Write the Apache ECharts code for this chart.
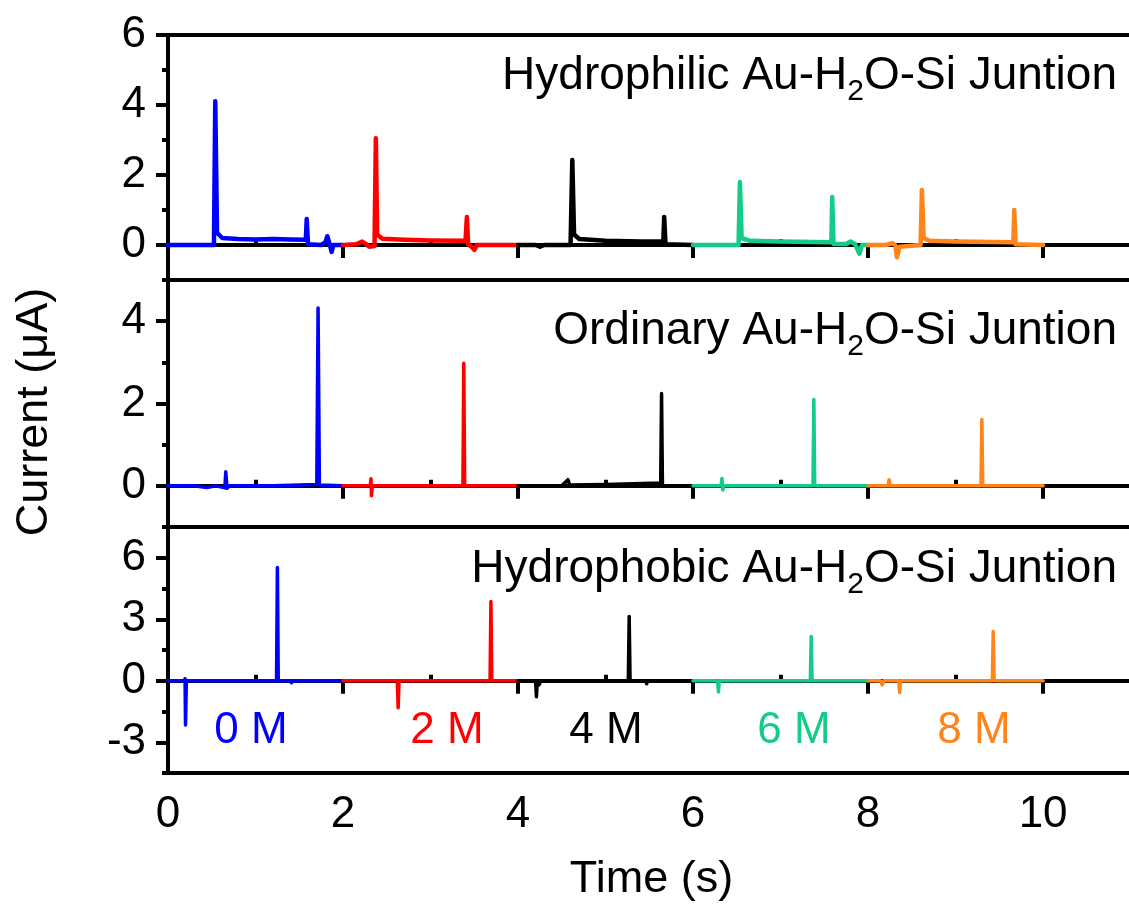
<!DOCTYPE html>
<html>
<head>
<meta charset="utf-8">
<script src="https://cdn.jsdelivr.net/npm/echarts@6/dist/echarts.min.js"></script>
<style>
  html, body { margin: 0; padding: 0; background: #fff; overflow: hidden; }
</style>
</head>
<body>
<!-- a bit wider than the window: the right frame edge lies outside the picture -->
<div id="main" style="width: 1145px; height: 909px"></div>
<script>
// time (s), current (uA) points, one array per trace
var philic0M = [[0,0],[0.525,0],[0.54,4.11],[0.56,0.35],[0.62,0.2],[0.8,0.17],[1.0,0.16],[1.2,0.17],[1.4,0.16],[1.575,0.15],[1.585,0.74],[1.6,0.02],[1.75,0],[1.8,0.08],[1.82,0.25],[1.85,0],[1.87,-0.2],[1.89,0],[2,0]];
var philic2M = [[2,0],[2.15,0.02],[2.22,0.1],[2.25,0.05],[2.3,-0.05],[2.36,-0.03],[2.375,3.05],[2.39,0.3],[2.45,0.18],[2.7,0.15],[3.0,0.13],[3.4,0.12],[3.415,0.8],[3.43,0.02],[3.47,-0.05],[3.5,-0.14],[3.53,0],[4,0]];
var philic4M = [[4,0],[4.2,0],[4.25,-0.05],[4.3,0],[4.6,0],[4.62,2.43],[4.64,0.3],[4.7,0.17],[5.0,0.12],[5.4,0.1],[5.66,0.1],[5.67,0.8],[5.685,0.02],[6,0]];
var philic6M = [[6,0],[6.52,0],[6.535,1.8],[6.555,0.2],[6.65,0.12],[7.0,0.1],[7.58,0.08],[7.59,1.37],[7.605,0.03],[7.75,0.03],[7.8,0.1],[7.85,0.03],[7.9,-0.25],[7.93,0],[8,0]];
var philic8M = [[8,0],[8.2,0],[8.28,0.05],[8.31,0],[8.33,-0.35],[8.36,-0.05],[8.6,0],[8.615,1.57],[8.635,0.2],[8.7,0.12],[9.0,0.1],[9.66,0.08],[9.67,1.0],[9.685,0.02],[10,0]];

var ordinary0M = [[0,0],[0.3,0],[0.44,-0.04],[0.55,0],[0.65,-0.05],[0.66,0.34],[0.675,-0.06],[0.7,0],[1.2,0],[1.7,0.03],[1.715,4.32],[1.73,0.02],[2,0]];
var ordinary2M = [[2,0],[2.31,0],[2.32,0.17],[2.325,-0.24],[2.335,0],[3.37,0],[3.38,2.98],[3.39,0],[4,0]];
var ordinary4M = [[4,0],[4.5,0],[4.57,0.15],[4.59,0.02],[5.0,0.03],[5.63,0.07],[5.64,2.24],[5.65,0],[6,0]];
var ordinary6M = [[6,0],[6.32,0],[6.33,0.18],[6.34,-0.1],[6.35,0],[7.37,0],[7.38,2.1],[7.39,0],[8,0]];
var ordinary8M = [[8,0],[8.23,0],[8.24,0.15],[8.25,0],[9.29,0],[9.3,1.61],[9.31,0],[10,0]];

var phobic0M = [[0,0],[0.19,0],[0.195,0.1],[0.2,-2.16],[0.21,0],[1.24,0],[1.25,5.53],[1.26,0],[1.4,0],[1.41,-0.1],[1.42,0],[2,0]];
var phobic2M = [[2,0],[2.62,0],[2.63,-1.32],[2.64,0],[3.68,0],[3.69,3.87],[3.7,0],[4,0]];
var phobic4M = [[4,0],[4.2,0],[4.21,-0.78],[4.22,0],[4.24,-0.2],[4.26,0],[5.26,0],[5.27,3.14],[5.28,0],[5.46,0],[5.47,-0.15],[5.48,0],[6,0]];
var phobic6M = [[6,0],[6.28,0],[6.29,-0.54],[6.3,0],[7.34,0],[7.35,2.16],[7.36,0],[8,0]];
var phobic8M = [[8,0],[8.14,0],[8.16,-0.2],[8.18,0],[8.35,0],[8.36,-0.57],[8.37,0],[9.42,0],[9.43,2.4],[9.44,0],[10,0]];

var concLabels = ["0 M", "2 M", "4 M", "6 M", "8 M"];
var colors = ["#0000ff", "#ff0000", "#000000", "#14cc88", "#ff8419"];

var xMajor = [0, 2, 4, 6, 8, 10];
var xMinor = [1, 3, 5, 7, 9];
var yMajorTop = [0, 2, 4, 6];
var yMinorTop = [-1, 1, 3, 5];
var yMajorMid = [0, 2, 4];
var yMinorMid = [-1, 1, 3, 5];
var yMajorBot = [-3, 0, 3, 6];
var yMinorBot = [-4.5, -1.5, 1.5, 4.5, 7.5];

var FONT = "Liberation Sans, Arial, sans-serif";
var X_MAX = 11.05; // the plot runs a little past the picture's right edge

var chartDom = document.getElementById("main");
var myChart = echarts.init(chartDom);

var grids = [
  { left: 168, top: 35, width: 967, height: 245 },
  { left: 168, top: 280, width: 967, height: 247 },
  { left: 168, top: 527, width: 967, height: 246 },
];
grids.forEach(function (g) {
  g.show = true;
  g.borderColor = "#000";
  g.borderWidth = 4;
  g.backgroundColor = "transparent";
});

function xMain(i, showLabel) {
  return {
    type: "value", gridIndex: i, min: 0, max: X_MAX,
    axisLine: { show: true, lineStyle: { color: "#000", width: 4 } },
    axisTick: { show: true, customValues: xMajor, length: 13, lineStyle: { color: "#000", width: 4 } },
    axisLabel: { show: showLabel, customValues: xMajor, margin: 20, color: "#000", fontSize: 44, fontFamily: FONT },
    splitLine: { show: false },
    name: showLabel ? "Time (s)" : "",
    nameLocation: "middle", nameGap: 84,
    nameTextStyle: { color: "#000", fontSize: 45, fontFamily: FONT },
  };
}
function xMinorAxis(i) {
  return {
    type: "value", gridIndex: i, min: 0, max: X_MAX,
    axisLine: { show: false },
    axisTick: { show: true, customValues: xMinor, length: 6, lineStyle: { color: "#000", width: 4 } },
    axisLabel: { show: false },
    splitLine: { show: false },
  };
}
function yMain(i, min, max, major) {
  return {
    type: "value", gridIndex: i, min: min, max: max,
    axisLine: { show: true, lineStyle: { color: "#000", width: 4 } },
    axisTick: { show: true, customValues: major, length: 12, lineStyle: { color: "#000", width: 4 } },
    axisLabel: { customValues: major, margin: 22, color: "#000", fontSize: 44, fontFamily: FONT },
    splitLine: { show: false },
  };
}
function yMinorAxis(i, min, max, minor) {
  return {
    type: "value", gridIndex: i, min: min, max: max, position: "left",
    axisLine: { show: false },
    axisTick: { show: true, customValues: minor, length: 6, lineStyle: { color: "#000", width: 4 } },
    axisLabel: { show: false },
    splitLine: { show: false },
  };
}

var panels = [
  [philic0M, philic2M, philic4M, philic6M, philic8M],
  [ordinary0M, ordinary2M, ordinary4M, ordinary6M, ordinary8M],
  [phobic0M, phobic2M, phobic4M, phobic6M, phobic8M],
];
var series = [];
panels.forEach(function (traces, p) {
  traces.forEach(function (data, k) {
    series.push({
      type: "line", xAxisIndex: p * 2, yAxisIndex: p * 2,
      data: data, showSymbol: false, silent: true, animation: false,
      lineStyle: { color: colors[k], width: p === 0 ? 4.5 : 3.5, cap: "round", join: "round" },
    });
  });
});

// titles are placed against the window's right edge (1129 px), not the wider div
function juncTitle(word, y) {
  return {
    type: "text", right: 28, top: y, z: 100,
    style: {
      text: "{a|" + word + " Au-H}{s|2}{a|O-Si Juntion}",
      fill: "#000",
      rich: {
        a: { fontSize: 46, lineHeight: 46, fontFamily: FONT, verticalAlign: "top", fill: "#000" },
        s: { fontSize: 30, lineHeight: 30, fontFamily: FONT, verticalAlign: "top", padding: [24, 0, 0, 0], fill: "#000" },
      },
    },
  };
}

var concX = [251, 447, 606, 794, 974];
var graphics = [
  juncTitle("Hydrophilic", 53),
  juncTitle("Ordinary", 308),
  juncTitle("Hydrophobic", 546),
  {
    type: "text", x: 35, y: 412, rotation: Math.PI / 2,
    style: { text: "Current (\u03bcA)", fontSize: 45, fontFamily: FONT, fill: "#000", align: "center", verticalAlign: "middle" },
  },
];
concLabels.forEach(function (t, k) {
  graphics.push({
    type: "text", x: concX[k], y: 731,
    style: { text: t, fontSize: 44, fontFamily: FONT, fill: colors[k], align: "center", verticalAlign: "middle" },
  });
});

var option = {
  animation: false,
  backgroundColor: "#fff",
  grid: grids,
  xAxis: [xMain(0, false), xMinorAxis(0), xMain(1, false), xMinorAxis(1), xMain(2, true), xMinorAxis(2)],
  yAxis: [
    yMain(0, -1, 6, yMajorTop), yMinorAxis(0, -1, 6, yMinorTop),
    yMain(1, -1, 5, yMajorMid), yMinorAxis(1, -1, 5, yMinorMid),
    yMain(2, -4.5, 7.5, yMajorBot), yMinorAxis(2, -4.5, 7.5, yMinorBot),
  ],
  series: series,
  graphic: graphics,
};
myChart.setOption(option);
</script>
</body>
</html>
